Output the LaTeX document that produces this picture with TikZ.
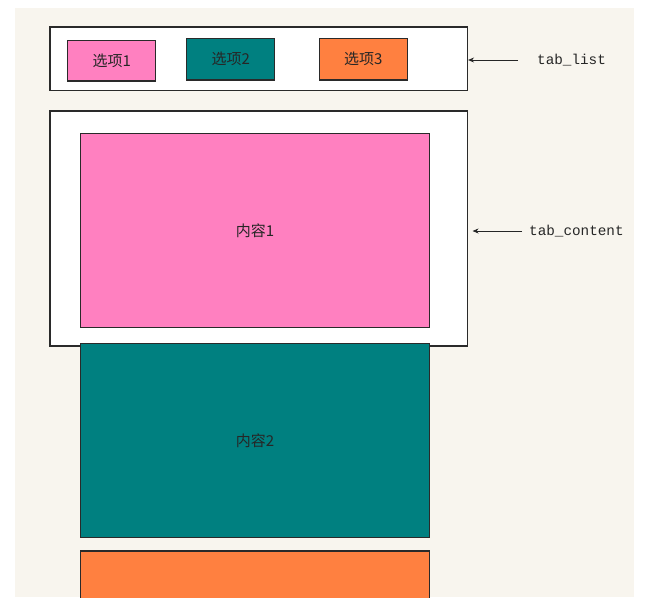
\documentclass[tikz,border=0pt]{standalone}
\usepackage{fontspec}
\newfontfamily\cjk{Noto Sans CJK SC}
\newfontfamily\mono{Liberation Mono}
\usetikzlibrary{arrows.meta}
\definecolor{bgbeige}{HTML}{F8F5EE}
\definecolor{tabpink}{HTML}{FF80C0}
\definecolor{tabteal}{HTML}{008080}
\definecolor{taborange}{HTML}{FF8040}
\definecolor{edge}{HTML}{2A2A2A}
\tikzset{
  box/.style={draw=edge, line width=1.1pt, inner sep=0pt, anchor=center},
  panel/.style={box, fill=white},
  tabbox/.style={box, minimum width=88pt, font=\cjk\fontsize{15}{16}\selectfont, text=black!85},
  contentbox/.style={box, minimum width=349.4pt, minimum height=194pt, font=\cjk\fontsize{15}{16}\selectfont, text=black!85},
  lbl/.style={font=\mono\fontsize{14.3}{15}\selectfont, anchor=west, inner sep=0pt, text=black!85},
  arr/.style={draw=black!85, line width=0.9pt, -{Stealth[length=6pt,width=5pt]}}
}
\begin{document}
\begin{tikzpicture}[x=1pt,y=-1pt]
\useasboundingbox (0,0) rectangle (664,602);
\fill[white] (0,0) rectangle (664,602);
\fill[bgbeige] (15,8) rectangle (634,597);
% tab list
\node[panel, minimum width=417.5pt, minimum height=63.7pt] (tablist) at (258.75,58.85) {};
\node[tabbox, fill=tabpink, minimum height=40.3pt] (tab1) at (111.85,60.85) {选项1};
\node[tabbox, fill=tabteal, minimum height=41.7pt] (tab2) at (230.7,59.15) {选项2};
\node[tabbox, fill=taborange, minimum height=41.7pt] (tab3) at (363.3,59.15) {选项3};
% tab content
\node[panel, minimum width=417.5pt, minimum height=235pt] (tabcontent) at (258.75,228.5) {};
\node[contentbox, fill=tabpink] (c1) at (255,230.3) {内容1};
\node[contentbox, fill=tabteal, minimum height=194.4pt] (c2) at (255,440.5) {内容2};
\begin{scope}
\clip (15,8) rectangle (634,597);
\node[contentbox, fill=taborange] (c3) at (255,648) {};
\end{scope}
% labels
\node[lbl] (l1) at (537,60) {tab\_list};
\node[lbl] (l2) at (529,231) {tab\_content};
\draw[arr, shorten <=19pt] (l1.west) -- (l1.west -| tablist.east);
\draw[arr, shorten <=7pt, shorten >=4.5pt] (l2.west) -- (l2.west -| tabcontent.east);
\end{tikzpicture}
\end{document}
